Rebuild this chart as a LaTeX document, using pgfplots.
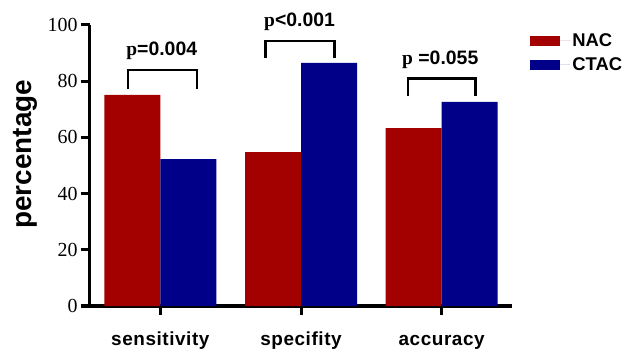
\documentclass[border=0pt]{standalone}
\usepackage{fontspec}
\setmainfont{Liberation Serif}
\setsansfont{Liberation Sans}
\usepackage{pgfplots}
\pgfplotsset{compat=1.18}
\definecolor{nacred}{RGB}{163,0,0}
\definecolor{ctacblue}{RGB}{0,0,136}
\begin{document}
\begin{tikzpicture}
\path[use as bounding box] (-90bp,-48bp) rectangle (548bp,306bp);
\begin{axis}[
  at={(0,0)}, anchor=south west,
  scale only axis, width=422bp, height=281bp,
  xmin=-0.5, xmax=2.5, ymin=0, ymax=100,
  axis x line*=bottom, axis y line*=left,
  axis line style={line width=3bp, -},
  ybar=0pt, bar width=56bp,
  xtick={0,1,2}, xticklabels={sensitivity,specifity,accuracy},
  ytick={0,20,...,100},
  tick align=outside, major tick length=9bp,
  tick style={line width=3bp, black},
  xticklabel style={font=\sffamily\bfseries\fontsize{19}{19}\selectfont\addfontfeatures{LetterSpace=3}, anchor=base, yshift=-30bp},
  yticklabel style={font=\fontsize{20}{20}\selectfont},
  /pgf/number format/assume math mode=true,
  ylabel={percentage},
  ylabel style={font=\sffamily\bfseries\fontsize{28}{28}\selectfont, at={(axis description cs:-0.154,0.54)}, anchor=center},
  clip=false,
  legend style={at={(axis description cs:1.036,0.985)}, anchor=north west, draw=none, fill=none,
    font=\sffamily\bfseries\fontsize{18.5}{18.5}\selectfont, row sep=6bp},
  legend cell align=left,
  legend image code/.code={\fill[#1] (0bp,-5bp) rectangle (30bp,5bp); \path (30bp,0) -- (40bp,0);},
]
\addplot[fill=nacred, draw=none] coordinates {(0,75.1) (1,54.8) (2,63.3)};
\addplot[fill=ctacblue, draw=none] coordinates {(0,52.3) (1,86.5) (2,72.6)};
\legend{NAC, CTAC}
\draw[line width=2.8bp] (axis cs:-0.23,77.2) -- (axis cs:-0.23,84) -- (axis cs:0.26,84) -- (axis cs:0.26,77.2);
\draw[line width=2.8bp] (axis cs:0.75,88.3) -- (axis cs:0.75,94.3) -- (axis cs:1.24,94.3) -- (axis cs:1.24,88.3);
\draw[line width=2.8bp] (axis cs:1.76,74.7) -- (axis cs:1.76,81.1) -- (axis cs:2.24,81.1) -- (axis cs:2.24,74.7);
\node[font=\sffamily\bfseries\fontsize{19.5}{19.5}\selectfont] at (axis cs:0.01,90.7) {{\rmfamily p}=0.004};
\node[font=\sffamily\bfseries\fontsize{19.5}{19.5}\selectfont] at (axis cs:0.99,101.1) {{\rmfamily p}<0.001};
\node[font=\sffamily\bfseries\fontsize{19.5}{19.5}\selectfont] at (axis cs:1.99,87.5) {{\rmfamily p} =0.055};
\end{axis}
\end{tikzpicture}
\end{document}
